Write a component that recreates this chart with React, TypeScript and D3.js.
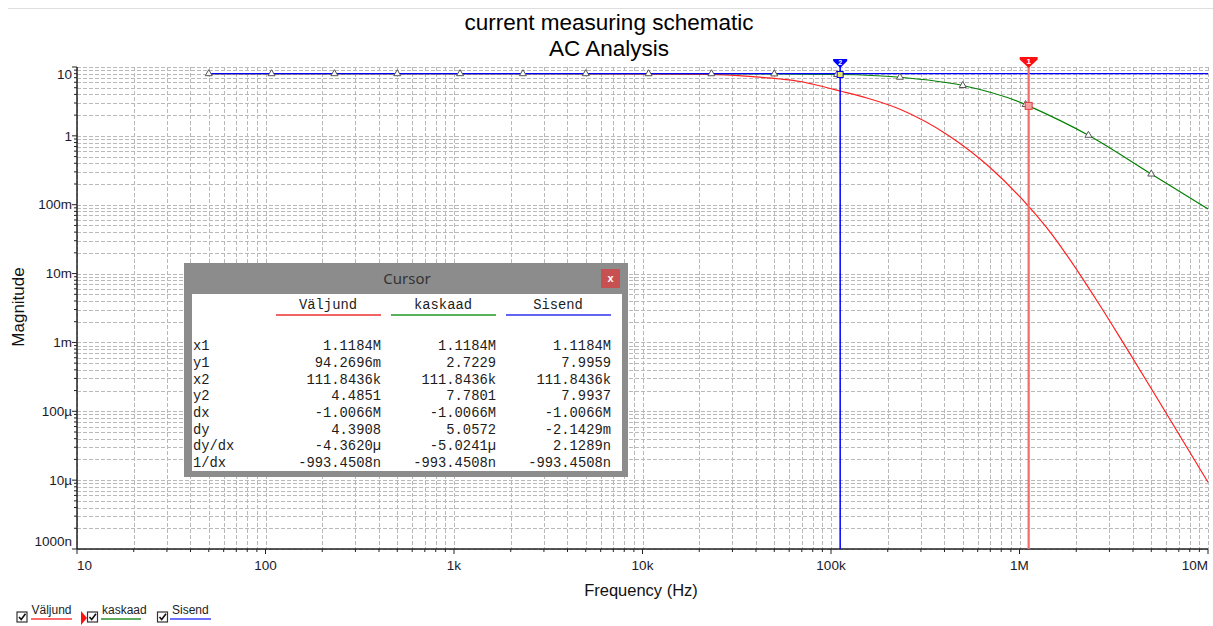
import React from "react";
import * as d3 from "d3";

const W = 1213;
const H = 626;

const titleLines = ["current measuring schematic", "AC Analysis"];
const xAxisTitle = "Frequency (Hz)";
const yAxisTitle = "Magnitude";

const xTickValues = [10, 100, 1e3, 1e4, 1e5, 1e6, 1e7];
const xTickLabels = ["10", "100", "1k", "10k", "100k", "1M", "10M"];
const yTickValues = [1e-6, 1e-5, 1e-4, 1e-3, 1e-2, 1e-1, 1, 10];
const yTickLabels = ["1000n", "10µ", "100µ", "1m", "10m", "100m", "1", "10"];

// Väljund (red)
const valjundFreq = [50, 1000, 7322, 23100, 38500, 53700, 68600, 80300, 111843.6, 155000, 232300, 427900, 697600, 1118400, 1451000, 1743000, 2673000, 3541000, 4924000, 6060000, 10000000];
const valjundMag = [7.996, 7.996, 7.95, 7.84, 7.23, 6.7, 6.16, 5.61, 4.4851, 3.55, 2.44, 0.98, 0.347, 0.0943, 0.0402, 0.0202, 0.00344, 0.001, 0.000229, 0.0000898, 0.0000093];

// kaskaad (green)
const kaskaadFreq = [50, 107.7, 232.1, 500, 1077, 2321, 5000, 10772, 23208, 50000, 107722, 111843.6, 232079, 500000, 1077217, 1118400, 2320794, 5000000, 10000000];
const kaskaadMag = [7.996, 7.996, 7.996, 7.996, 7.996, 7.996, 7.995, 7.99, 7.98, 7.93, 7.79, 7.7801, 7.1, 5.39, 2.85, 2.7229, 1.02, 0.279, 0.087];
const kaskaadMarkerFreq = [50, 107.7, 232.1, 500, 1077, 2321, 5000, 10772, 23208, 50000, 107722, 232079, 500000, 1077217, 2320794, 5000000];

// Sisend (blue)
const sisendFreq = [50, 111843.6, 1118400, 10000000];
const sisendMag = [7.996, 7.9937, 7.9959, 7.995];

const cursor1Freq = 1118400;
const cursor2Freq = 111843.6;

const cursorColumns = ["Väljund", "kaskaad", "Sisend"];
const cursorRowLabels = ["x1", "y1", "x2", "y2", "dx", "dy", "dy/dx", "1/dx"];
const cursorValjund = ["1.1184M", "94.2696m", "111.8436k", "4.4851", "-1.0066M", "4.3908", "-4.3620µ", "-993.4508n"];
const cursorKaskaad = ["1.1184M", "2.7229", "111.8436k", "7.7801", "-1.0066M", "5.0572", "-5.0241µ", "-993.4508n"];
const cursorSisend = ["1.1184M", "7.9959", "111.8436k", "7.9937", "-1.0066M", "-2.1429m", "2.1289n", "-993.4508n"];

const legendNames = ["Väljund", "kaskaad", "Sisend"];

const RED = "#ff2020";
const GREEN = "#008000";
const BLUE = "#0000ff";

const plot = { left: 77, right: 1208, top: 67, bottom: 549 };

const SANS = "'Liberation Sans', Arial, sans-serif";
const MONO = "'Liberation Mono', 'Courier New', monospace";

export default function App() {
  const x = d3.scaleLog().domain([10, 1e7]).range([plot.left, plot.right]);
  const y = d3.scaleLog().domain([1e-6, 10]).range([plot.bottom, plot.top]);

  const xGrid: number[] = [];
  for (let e = 1; e <= 6; e++) for (let m = 1; m <= 9; m++) xGrid.push(m * Math.pow(10, e));
  xGrid.push(1e7);
  const yGrid: number[] = [];
  for (let e = -6; e <= 0; e++) for (let m = 1; m <= 9; m++) yGrid.push(m * Math.pow(10, e));
  yGrid.push(10);

  const line = d3
    .line<[number, number]>()
    .x((d) => x(d[0]))
    .y((d) => y(d[1]))
    .curve(d3.curveMonotoneX);

  const zip = (a: number[], b: number[]) => a.map((v, i) => [v, b[i]] as [number, number]);
  const redPath = line(zip(valjundFreq, valjundMag)) || "";
  const greenPath = line(zip(kaskaadFreq, kaskaadMag)) || "";
  const bluePath = line(zip(sisendFreq, sisendMag)) || "";

  const markers = kaskaadMarkerFreq.map((f) => {
    const i = kaskaadFreq.indexOf(f);
    return [x(f), y(kaskaadMag[i])];
  });

  const c1x = x(cursor1Freq);
  const c2x = x(cursor2Freq);
  const c1y = y(kaskaadMag[kaskaadFreq.indexOf(cursor1Freq)]);
  const c2y = y(kaskaadMag[kaskaadFreq.indexOf(cursor2Freq)]);

  const isMajor = (v: number) => Math.abs(Math.log10(v) - Math.round(Math.log10(v))) < 1e-9;

  const colRight = [381, 496, 611];
  const colCenter = [328, 443, 558];
  const colUnder = [[276, 381], [391, 496], [506, 611]];
  const colColors = ["#ee3030", "#229922", "#3030ee"];
  const colValues = [cursorValjund, cursorKaskaad, cursorSisend];

  const legendX = [17, 87.5, 157.5];
  const legendUnder = [[31, 72], [101, 141], [170, 211]];
  const legendColors = ["#ff6a6a", "#5fae5f", "#7070ff"];

  return (
    <svg
      width={W}
      height={H}
      style={{ position: "fixed", left: 0, top: 0, background: "#fff" }}
      fontFamily={SANS}
    >
      <rect x={0} y={0} width={W} height={H} fill="#fff" />
      <line x1={8} x2={W} y1={8.5} y2={8.5} stroke="#dedede" strokeWidth={1} />

      {/* Title */}
      {titleLines.map((t, i) => (
        <text key={t} x={609} y={30 + i * 25.5} textAnchor="middle" fontSize={22.5} fill="#000">
          {t}
        </text>
      ))}

      {/* Grid */}
      <g stroke="#b9b9b9" strokeWidth={1} strokeDasharray="4,2">
        {xGrid.map((v) => (
          <line key={"gx" + v} x1={Math.round(x(v)) + 0.5} x2={Math.round(x(v)) + 0.5} y1={plot.top} y2={plot.bottom} />
        ))}
        {yGrid.map((v) => (
          <line key={"gy" + v} x1={plot.left} x2={plot.right} y1={Math.round(y(v)) + 0.5} y2={Math.round(y(v)) + 0.5} />
        ))}
      </g>

      {/* Axes */}
      <g stroke="#222" strokeWidth={1.5}>
        <line x1={plot.left} x2={plot.left} y1={plot.top} y2={plot.bottom} />
        <line x1={plot.left} x2={plot.right} y1={plot.bottom} y2={plot.bottom} />
        {xGrid.map((v) => (
          <line key={"tx" + v} x1={x(v)} x2={x(v)} y1={plot.bottom} y2={plot.bottom + (isMajor(v) ? 5 : 3)} strokeWidth={1} />
        ))}
        {yGrid.map((v) => (
          <line key={"ty" + v} x1={plot.left} x2={plot.left - (isMajor(v) ? 5 : 3)} y1={y(v)} y2={y(v)} strokeWidth={1} />
        ))}
      </g>

      {/* Tick labels */}
      <g fontSize={13.5} fill="#1a1a2a">
        {xTickValues.map((v, i) => (
          <text
            key={"xl" + v}
            x={x(v)}
            y={570}
            textAnchor={i === 0 ? "start" : i === xTickValues.length - 1 ? "end" : "middle"}
          >
            {xTickLabels[i]}
          </text>
        ))}
        {yTickValues.map((v, i) => {
          const off = i === yTickValues.length - 1 ? 7 : i === 0 ? -8 : 0;
          return (
            <text key={"yl" + v} x={72} y={y(v) + off} dy="0.35em" textAnchor="end">
              {yTickLabels[i]}
            </text>
          );
        })}
      </g>

      {/* Axis titles */}
      <text x={641} y={596} textAnchor="middle" fontSize={16.5} fill="#111">
        {xAxisTitle}
      </text>
      <text transform={`translate(24,307) rotate(-90)`} textAnchor="middle" fontSize={17} fill="#111">
        {yAxisTitle}
      </text>

      {/* Traces */}
      <defs>
        <clipPath id="plotclip">
          <rect x={plot.left} y={plot.top - 2} width={plot.right - plot.left + 1} height={plot.bottom - plot.top + 2} />
        </clipPath>
      </defs>
      <g clipPath="url(#plotclip)" fill="none">
        <path d={redPath} stroke={RED} strokeWidth={1.2} />
        <path d={greenPath} stroke={GREEN} strokeWidth={1.2} />
        <path d={bluePath} stroke={BLUE} strokeWidth={1.2} />
        {markers.map(([mx, my], i) => (
          <path
            key={"m" + i}
            d={`M${mx},${my - 4}L${mx + 3.5},${my + 2}L${mx - 3.5},${my + 2}Z`}
            fill="#fff"
            stroke="#555"
            strokeWidth={1}
          />
        ))}
      </g>

      {/* Cursors */}
      <line x1={c2x} x2={c2x} y1={64} y2={plot.bottom} stroke={BLUE} strokeWidth={1.5} />
      <line x1={c1x} x2={c1x} y1={64} y2={plot.bottom} stroke="#f26b6b" strokeWidth={2.2} />
      <path d={`M${c2x - 7},59L${c2x + 7},59L${c2x + 7},61L${c2x},68L${c2x - 7},61Z`} fill={BLUE} />
      <text x={c2x} y={62.5} textAnchor="middle" fontSize={7} fontWeight="bold" fill="#fff" dy="0.35em">
        2
      </text>
      <path d={`M${c1x - 9},57L${c1x + 9},57L${c1x + 9},59.5L${c1x},68L${c1x - 9},59.5Z`} fill="#ff1010" />
      <text x={c1x} y={61.5} textAnchor="middle" fontSize={8} fontWeight="bold" fill="#fff" dy="0.35em">
        1
      </text>
      <rect x={c1x - 3.5} y={c1y - 3.5} width={7} height={7} fill="#f4a0a0" stroke="#e04040" strokeWidth={1} />
      <rect x={c2x - 3} y={c2y - 3} width={6} height={6} fill="#e8e860" stroke={BLUE} strokeWidth={1} />

      {/* Cursor box */}
      <rect x={184} y={263} width={444} height={214} fill="#8c8c8c" />
      <text x={407} y={279} dy="0.35em" textAnchor="middle" fontSize={15} fill="#333" fontFamily="'Noto Sans', 'Liberation Sans', sans-serif">
        Cursor
      </text>
      <rect x={601} y={269} width={19} height={19} fill="#c75050" />
      <text x={610.5} y={278.5} dy="0.35em" textAnchor="middle" fontSize={11} fontWeight="bold" fill="#fff">
        x
      </text>
      <rect x={192} y={294} width={430} height={177} fill="#fff" />
      <g fontFamily={MONO} fontSize={13.8} fill="#1c1c1c">
        {cursorColumns.map((c, i) => (
          <g key={c}>
            <text x={colCenter[i]} y={304} dy="0.35em" textAnchor="middle">
              {c}
            </text>
            <line x1={colUnder[i][0]} x2={colUnder[i][1]} y1={315} y2={315} stroke={colColors[i]} strokeWidth={1.5} />
          </g>
        ))}
        {cursorRowLabels.map((r, j) => (
          <g key={r}>
            <text x={193} y={345.3 + j * 16.7} dy="0.35em">
              {r}
            </text>
            {colValues.map((vals, i) => (
              <text key={i} x={colRight[i]} y={345.3 + j * 16.7} dy="0.35em" textAnchor="end">
                {vals[j]}
              </text>
            ))}
          </g>
        ))}
      </g>

      {/* Legend */}
      <path d="M81,611L87,618L81,625Z" fill="#ff1010" />
      {legendNames.map((n, i) => (
        <g key={n}>
          <rect x={legendX[i]} y={612} width={10} height={10} fill="#fff" stroke="#333" strokeWidth={1.2} />
          <path
            d={`M${legendX[i] + 2},${617}L${legendX[i] + 4.2},${619.5}L${legendX[i] + 8.5},${613.8}`}
            fill="none"
            stroke="#111"
            strokeWidth={1.6}
          />
          <text x={legendX[i] + 14.5} y={614} fontSize={12} fill="#222">
            {n}
          </text>
          <line x1={legendUnder[i][0]} x2={legendUnder[i][1]} y1={619} y2={619} stroke={legendColors[i]} strokeWidth={2} />
        </g>
      ))}
    </svg>
  );
}
